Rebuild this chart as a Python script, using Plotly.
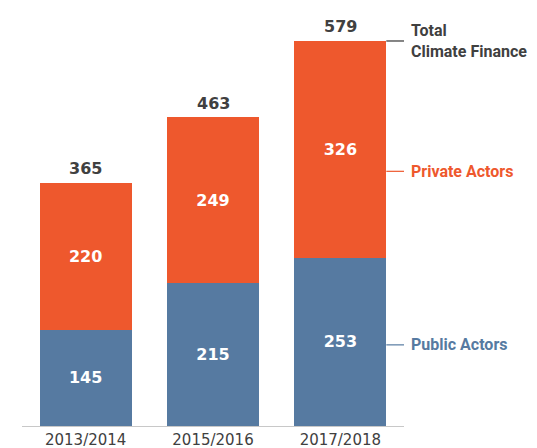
import plotly.graph_objects as go

# data
periods = ["2013/2014", "2015/2016", "2017/2018"]
public_actors = [145, 215, 253]
private_actors = [220, 249, 326]
totals = [365, 463, 579]

orange = "#EE582D"
blue = "#567AA1"
dark = "#404040"
numfont = "DejaVu Sans"

fig = go.Figure()
fig.add_trace(go.Bar(x=periods, y=public_actors, marker_color=blue, marker_line_width=0,
                     text=["<b>%d</b>" % v for v in public_actors], textposition="inside",
                     insidetextanchor="middle",
                     textfont=dict(color="white", size=16, family=numfont), name="Public Actors"))
fig.add_trace(go.Bar(x=periods, y=private_actors, marker_color=orange, marker_line_width=0,
                     text=["<b>%d</b>" % v for v in private_actors], textposition="inside",
                     insidetextanchor="middle",
                     textfont=dict(color="white", size=16, family=numfont), name="Private Actors"))

# totals above the bars
for p, t in zip(periods, totals):
    fig.add_annotation(x=p, y=t, text="<b>%d</b>" % t, showarrow=False, yanchor="bottom", yshift=3,
                       font=dict(size=16, color=dark, family=numfont))

# right side labels with short connectors from last bar
half = 0.361
labels = [
    ("<b>Total<br>Climate Finance</b>", totals[2], dark, "#333333"),
    ("<b>Private Actors</b>", 383, orange, orange),
    ("<b>Public Actors</b>", 122, blue, blue),
]
for txt, yv, col, linecol in labels:
    fig.add_shape(type="line", xref="x", yref="y", x0=2 + half, x1=2.5, y0=yv, y1=yv,
                  line=dict(color=linecol, width=1.2))
    fig.add_annotation(xref="paper", yref="y", x=1.012, y=yv, text=txt, showarrow=False,
                       xanchor="left", align="left",
                       font=dict(size=16, color=col, family="Roboto"))

# page body has an 8px margin, so the figure is a bit smaller
fig.update_layout(
    barmode="stack", bargap=0.278, showlegend=False,
    width=529, height=440,
    margin=dict(l=14, r=132.5, t=2, b=22),
    plot_bgcolor="white", paper_bgcolor="white",
)
fig.update_xaxes(showline=True, linecolor="#c8c8c8", linewidth=1.2, ticks="", automargin=False,
                 ticklabelstandoff=0,
                 tickfont=dict(size=15, color=dark, family=numfont), range=[-0.5, 2.5])
fig.update_yaxes(visible=False, range=[0, 625.6], showgrid=False)

fig.write_html("out.html")
